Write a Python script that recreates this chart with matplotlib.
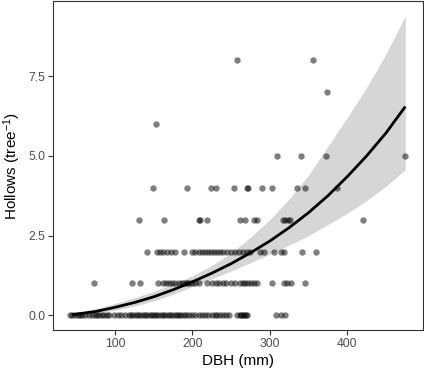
import matplotlib
matplotlib.use("Agg")
import matplotlib.pyplot as plt
import numpy as np

plt.rcParams['font.family'] = ['Liberation Sans', 'DejaVu Sans']
plt.rcParams['mathtext.fontset'] = 'custom'
plt.rcParams['mathtext.rm'] = 'Liberation Sans'
plt.rcParams['mathtext.it'] = 'Liberation Sans:italic'

# Observed hollows per tree, grouped by count
dbh_0 = [42, 45, 48, 52, 55, 58, 62, 66, 70, 74, 77, 80, 83, 86, 90, 93,
         99, 104, 108, 113, 118, 121, 124, 127, 130, 133, 136, 139, 142, 145,
         148, 150, 153, 156, 159, 162, 165, 168, 171, 174, 177, 180, 183, 186,
         189, 192, 196, 200, 204, 208, 212, 216, 220, 226, 229, 232, 236, 240,
         244, 247, 258, 261, 263, 265, 267, 269, 271, 308, 314, 319]
dbh_1 = [73, 122, 132, 156, 162, 166, 170, 174, 178, 183, 187, 190, 193, 196,
         199, 204, 208, 219, 225, 230, 235, 240, 244, 250, 255, 262, 265, 268,
         272, 276, 280, 283, 303, 318, 322, 328, 346]
dbh_2 = [141, 154, 158, 162, 167, 172, 177, 189, 200, 204, 208, 212, 216, 220,
         224, 228, 232, 236, 240, 245, 250, 255, 260, 265, 270, 274, 287, 292,
         305, 314, 318, 341, 360]
dbh_3 = [131, 163, 208, 210, 219, 261, 268, 279, 284, 317, 320, 324, 326, 420]
dbh_4 = [149, 193, 224, 231, 254, 271, 272, 290, 303, 335, 345, 387]
dbh_5 = [309, 340, 373, 475]
dbh_6 = [153]
dbh_7 = [374]
dbh_8 = [258, 356]

# Fitted curve and confidence band
fit_x = [45, 75, 100, 125, 150, 175, 200, 225, 250, 275, 300, 325, 350, 375,
         400, 425, 450, 475]
fit_y = [0.02, 0.12, 0.25, 0.40, 0.58, 0.80, 1.05, 1.32, 1.62, 1.96, 2.33,
         2.75, 3.22, 3.75, 4.35, 5.00, 5.72, 6.55]
fit_lo = [0.01, 0.07, 0.16, 0.29, 0.45, 0.66, 0.90, 1.14, 1.39, 1.65, 1.92,
          2.20, 2.50, 2.85, 3.20, 3.60, 4.05, 4.58]
fit_hi = [0.06, 0.20, 0.37, 0.55, 0.75, 0.98, 1.24, 1.56, 1.95, 2.45, 3.00,
          3.65, 4.40, 5.30, 6.20, 7.15, 8.20, 9.39]

groups = [dbh_0, dbh_1, dbh_2, dbh_3, dbh_4, dbh_5, dbh_6, dbh_7, dbh_8]
xs = []
ys = []
for count, g in enumerate(groups):
    xs.extend(g)
    ys.extend([count] * len(g))

fig = plt.figure(figsize=(4.24, 3.70), dpi=100)
ax = fig.add_axes([53.3 / 424, 1 - 330.3 / 370, (422.7 - 53.3) / 424, (330.3 - 1) / 370])

ax.fill_between(fit_x, fit_lo, fit_hi, color='#d6d6d6', lw=0, zorder=1)
ax.scatter(xs, ys, s=21, color='black', alpha=0.5, lw=0, zorder=2)
ax.plot(fit_x, fit_y, color='black', lw=2.0, zorder=3, solid_capstyle='butt')

ax.set_xlim(20.5, 497.4)
ax.set_ylim(-0.47, 9.86)
ax.set_xticks([100, 200, 300, 400])
ax.set_yticks([0, 2.5, 5, 7.5])
ax.set_yticklabels(['0.0', '2.5', '5.0', '7.5'])

for s in ax.spines.values():
    s.set_color('#333333')
    s.set_linewidth(0.8)
ax.tick_params(axis='both', colors='#333333', length=3.5, width=0.8,
               labelsize=8.8, labelcolor='#4d4d4d', pad=2)
ax.set_xlabel('DBH (mm)', fontsize=11, color='black', labelpad=3)
ax.set_ylabel('Hollows (tree$^{-1}$)', fontsize=11, color='black', labelpad=4)

fig.savefig('out.png', dpi=100)
